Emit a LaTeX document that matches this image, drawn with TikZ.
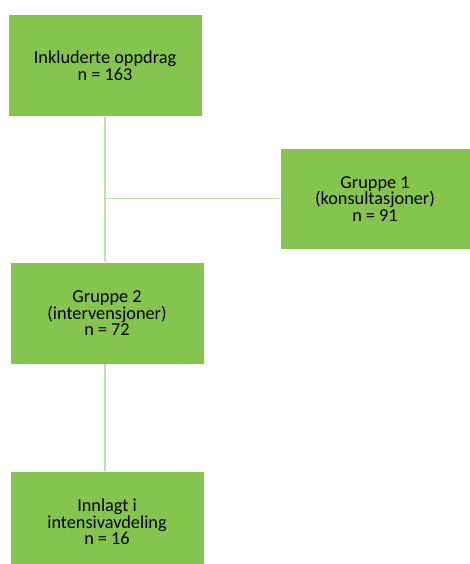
\documentclass[tikz,border=0pt]{standalone}
\usepackage{fontspec}
\setmainfont{Carlito}
\definecolor{boxgreen}{RGB}{133,196,78}
\definecolor{linegreen}{RGB}{190,224,170}
\begin{document}
\begin{tikzpicture}[x=0.75pt,y=-0.75pt,
  box/.style={rectangle, fill=boxgreen, draw=white, line width=0.6pt,
    minimum width=194*0.75pt, minimum height=102*0.75pt, inner sep=0pt,
    align=center, font=\fontsize{13.7pt}{12.4pt}\selectfont, text=black},
  conn/.style={draw=linegreen, line width=1.2pt}]
\useasboundingbox (0,0) rectangle (470,564);
\clip (0,0) rectangle (470,564);
\node[box] (top) at (105,65.6) {Inkluderte oppdrag\\n = 163};
\node[box, minimum width=190*0.75pt, minimum height=101*0.75pt] (g1) at (375,199) {Gruppe 1\\(konsultasjoner)\\n = 91};
\node[box] (g2) at (107,313.3) {Gruppe 2\\(intervensjoner)\\n = 72};
\node[box] (icu) at (107,522) {Innlagt i\\intensivavdeling\\n = 16};
\coordinate (j) at (105,198.5);
\coordinate (g2t) at (105,262.3);
\coordinate (g2b) at (105,364.3);
\coordinate (icut) at (105,471);
\draw[conn] (top.south) -- (g2t);
\draw[conn] (j) -- (g1.west |- j);
\draw[conn] (g2b) -- (icut);
\end{tikzpicture}
\end{document}
